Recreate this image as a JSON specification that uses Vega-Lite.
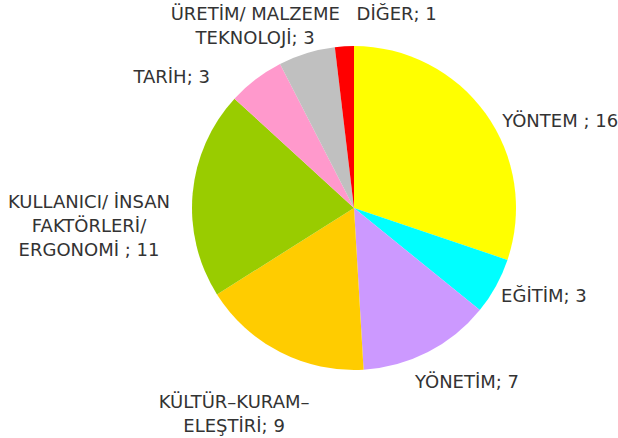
{
  "$schema": "https://vega.github.io/schema/vega-lite/v6.json",
  "width": 416,
  "height": 416,
  "autosize": {"type": "none"},
  "padding": {"left": 146, "top": 0, "right": 56, "bottom": 22},
  "background": "white",
  "config": {
    "view": {"stroke": null},
    "text": {"font": "DejaVu Sans", "fontSize": 18, "color": "#333333", "lineHeight": 24, "lineBreak": "\n", "baseline": "middle"}
  },
  "data": {
    "values": [
      {"idx": 1, "category": "YÖNTEM", "value": 16, "label": "YÖNTEM ; 16"},
      {"idx": 2, "category": "EĞİTİM", "value": 3, "label": "EĞİTİM; 3"},
      {"idx": 3, "category": "YÖNETİM", "value": 7, "label": "YÖNETİM; 7"},
      {"idx": 4, "category": "KÜLTÜR-KURAM-ELEŞTİRİ", "value": 9, "label": "KÜLTÜR–KURAM–\nELEŞTİRİ; 9"},
      {"idx": 5, "category": "KULLANICI/ İNSAN FAKTÖRLERİ/ ERGONOMİ", "value": 11, "label": "KULLANICI/ İNSAN\nFAKTÖRLERİ/\nERGONOMİ ; 11"},
      {"idx": 6, "category": "TARİH", "value": 3, "label": "TARİH; 3"},
      {"idx": 7, "category": "ÜRETİM/ MALZEME TEKNOLOJİ", "value": 3, "label": "ÜRETİM/ MALZEME\nTEKNOLOJİ; 3"},
      {"idx": 8, "category": "DİĞER", "value": 1, "label": "DİĞER; 1"}
    ]
  },
  "encoding": {
    "theta": {"field": "value", "type": "quantitative", "stack": true},
    "order": {"field": "idx", "type": "quantitative"},
    "detail": {"field": "category", "type": "nominal"}
  },
  "layer": [
    {
      "mark": {"type": "arc", "outerRadius": 162},
      "encoding": {
        "color": {
          "field": "category",
          "type": "nominal",
          "legend": null,
          "scale": {
            "domain": ["YÖNTEM", "EĞİTİM", "YÖNETİM", "KÜLTÜR-KURAM-ELEŞTİRİ", "KULLANICI/ İNSAN FAKTÖRLERİ/ ERGONOMİ", "TARİH", "ÜRETİM/ MALZEME TEKNOLOJİ", "DİĞER"],
            "range": ["#FFFF00", "#00FFFF", "#CC99FF", "#FFCC00", "#99CC00", "#FF99CC", "#C0C0C0", "#FF0000"]
          }
        }
      }
    },
    {
      "mark": {"type": "text", "radius": 175, "align": "left", "dx": 6, "dy": 16},
      "encoding": {"text": {"condition": {"test": "datum.idx == 1", "field": "label"}, "value": ""}}
    },
    {
      "mark": {"type": "text", "radius": 168, "align": "left", "dx": 0, "dy": 8},
      "encoding": {"text": {"condition": {"test": "datum.idx == 2", "field": "label"}, "value": ""}}
    },
    {
      "mark": {"type": "text", "radius": 197, "align": "left", "dx": -29, "dy": 0},
      "encoding": {"text": {"condition": {"test": "datum.idx == 3", "field": "label"}, "value": ""}}
    },
    {
      "mark": {"type": "text", "radius": 232, "align": "center", "dx": -14, "dy": -11},
      "encoding": {"text": {"condition": {"test": "datum.idx == 4", "field": "label"}, "value": ""}}
    },
    {
      "mark": {"type": "text", "radius": 266, "align": "center", "dx": 0, "dy": 19},
      "encoding": {"text": {"condition": {"test": "datum.idx == 5", "field": "label"}, "value": ""}}
    },
    {
      "mark": {"type": "text", "radius": 165, "align": "right", "dx": -44, "dy": 1},
      "encoding": {"text": {"condition": {"test": "datum.idx == 6", "field": "label"}, "value": ""}}
    },
    {
      "mark": {"type": "text", "radius": 191, "align": "center", "dx": -43, "dy": -10},
      "encoding": {"text": {"condition": {"test": "datum.idx == 7", "field": "label"}, "value": ""}}
    },
    {
      "mark": {"type": "text", "radius": 193, "align": "left", "dx": 14, "dy": 0},
      "encoding": {"text": {"condition": {"test": "datum.idx == 8", "field": "label"}, "value": ""}}
    }
  ]
}
